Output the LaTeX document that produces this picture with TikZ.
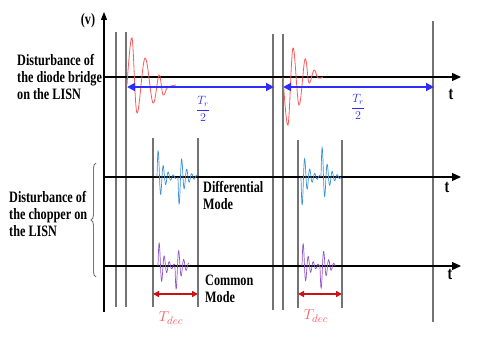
\documentclass[tikz,border=0pt]{standalone}
\usepackage{fontspec}
\setmainfont{Liberation Serif}
\usepackage{xcolor}
\usepackage{amsmath}
\usepackage{graphicx}
\usetikzlibrary{positioning,arrows.meta,calc,decorations.pathreplacing}

\definecolor{wavered}{RGB}{250,90,90}
\definecolor{wavblue}{RGB}{60,145,215}
\definecolor{wavpurple}{RGB}{145,85,200}
\definecolor{halfblue}{RGB}{45,45,250}
\definecolor{decred}{RGB}{200,20,20}
\definecolor{gridgray}{RGB}{115,115,115}

\newcommand{\tallbox}[1]{\scalebox{1}[1.3]{\begin{tabular}{@{}l@{}}#1\end{tabular}}}

\tikzset{
  lbl/.style={font=\bfseries\fontsize{12.2}{13}\selectfont, inner sep=0pt},
  axis/.style={line width=1.3pt, -{Triangle[length=9pt,width=8pt]}},
  markline/.style={draw=gridgray, line width=1.3pt},
  half/.style={halfblue, line width=1.8pt, {Triangle[length=8pt,width=8pt]}-{Triangle[length=8pt,width=8pt]}},
  dec/.style={decred, line width=1.3pt, {Triangle[length=6pt,width=6pt]}-{Triangle[length=6pt,width=6pt]}}
}

\begin{document}
\begin{tikzpicture}[x=1pt, y=-1pt]
    \useasboundingbox (0,0) rectangle (479,339);
    % vertical markers
    \foreach \xv/\ya/\yb in {116/32/307, 126/32/307, 153/138/307, 198/138/307,
        273/34/310, 283/34/310, 298/140/308, 342/140/308, 433/21/322}
        \draw[markline] (\xv,\ya) -- (\xv,\yb);

    % axes
    \coordinate (yb) at (104,312);
    \coordinate (yt) at (104,12);
    \coordinate (o1) at (103,77);  \coordinate (e1) at (461,77);
    \coordinate (o2) at (103,177); \coordinate (e2) at (461,177);
    \coordinate (o3) at (103,266); \coordinate (e3) at (461,266);
    \draw[line width=1.3pt, -{Triangle[length=8pt,width=6pt]}] (yb) -- (yt);
    \draw[axis] (o1) -- (e1);
    \draw[axis] (o2) -- (e2);
    \draw[axis] (o3) -- (e3);
    \node[lbl] (v) at (88,21) {\tallbox{(v)}};
    \node[lbl, font=\bfseries\fontsize{14}{14}\selectfont] (t1) at (451,96) {\tallbox{t}};
    \node[lbl, font=\bfseries\fontsize{14}{14}\selectfont] (t2) at (447,189) {\tallbox{t}};
    \node[lbl, font=\bfseries\fontsize{14}{14}\selectfont] (t3) at (450,276) {\tallbox{t}};

    % diode bridge ringing
    \draw[wavered, line width=0.8pt] plot[smooth, tension=0.6] coordinates {(127,85) (132,38) (137,113)
        (145,58) (153,103) (159,75) (163,95) (167,88) (171,86) (176,85)};
    \draw[wavered, line width=0.8pt] plot[smooth, tension=0.6] coordinates {(283,77) (288,125) (293,48)
        (299,105) (305,59) (309,83) (314,70) (318,78) (323,77)};

    % half periods
    \coordinate (h1a) at (127,87); \coordinate (h1b) at (274,87);
    \coordinate (h2a) at (283,87); \coordinate (h2b) at (434,87);
    \draw[half] (h1a) -- (h1b);
    \draw[half] (h2a) -- (h2b);
    \node[halfblue, font=\fontsize{12}{12}\selectfont] (r1) at (203,109) {$\dfrac{T_r}{2}$};
    \node[halfblue, font=\fontsize{12}{12}\selectfont] (r2) at (358,107) {$\dfrac{T_r}{2}$};

    % chopper bursts
    \foreach \xo/\yo/\amp/\xe/\col in {157/177/32/176/wavblue, 178/177/-33/197/wavblue,
        301/177/-34/320/wavblue, 321/177/36/341/wavblue,
        158/266/28/175/wavpurple, 175/266/-28/189/wavpurple,
        302/266/27/320/wavpurple, 320/266/-27/335/wavpurple}
        \draw[\col, line width=0.7pt, domain=\xo:\xe, samples=90]
            plot (\x, {\yo - \amp*exp(-(\x-\xo)/6)*sin(72*(\x-\xo))});

    % decay time
    \coordinate (d1a) at (153,294); \coordinate (d1b) at (198,294);
    \coordinate (d2a) at (298,294); \coordinate (d2b) at (342,294);
    \draw[dec] (d1a) -- (d1b);
    \draw[dec] (d2a) -- (d2b);
    \node[wavered, font=\fontsize{15}{15}\selectfont] (tdec1) at (171,318) {$T_{dec}$};
    \node[wavered, font=\fontsize{15}{15}\selectfont] (tdec2) at (316,316) {$T_{dec}$};

    % texts
    \node[lbl, anchor=west] (diode) at (17,79) {\tallbox{Disturbance of\\the diode bridge\\on the LISN}};
    \node[lbl, anchor=west] (chop) at (9,216) {\tallbox{Disturbance of\\the chopper on\\the LISN}};
    \node[lbl, anchor=west] (dm) at (203,198) {\tallbox{Differential\\Mode}};
    \node[lbl, anchor=west] (cm) at (205,291) {\tallbox{Common\\Mode}};
    \coordinate (bt) at (96,163); \coordinate (bb) at (96,277);
    \draw[gridgray, line width=0.9pt, decorate, decoration={brace, amplitude=5pt}] (bb) -- (bt);
\end{tikzpicture}
\end{document}
